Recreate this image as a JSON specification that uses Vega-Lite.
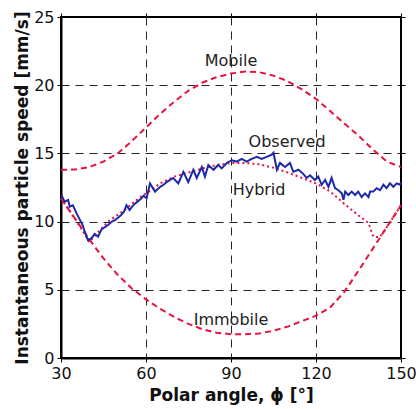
{
  "$schema": "https://vega.github.io/schema/vega-lite/v6.json",
  "width": 340,
  "height": 341,
  "autosize": {"type": "none"},
  "padding": {"left": 61, "top": 17, "right": 15, "bottom": 51},
  "background": "white",
  "config": {
    "font": "DejaVu Sans",
    "view": {"stroke": "#000", "strokeWidth": 2},
    "axis": {
      "labelFont": "DejaVu Sans",
      "labelFontSize": 16,
      "labelColor": "#111",
      "titleFont": "DejaVu Sans",
      "titleFontSize": 17,
      "titleFontWeight": "bold",
      "titleColor": "#111",
      "domainColor": "#000",
      "domainWidth": 2,
      "tickColor": "#000",
      "tickSize": 4,
      "tickWidth": 1,
      "gridColor": "#000",
      "gridOpacity": 0.85,
      "gridDash": [8, 6],
      "gridWidth": 1
    }
  },
  "datasets": {
    "curves": [
      {"series": "Mobile", "angle": 30, "speed": 13.8},
      {"series": "Mobile", "angle": 35, "speed": 13.82},
      {"series": "Mobile", "angle": 40, "speed": 14.0},
      {"series": "Mobile", "angle": 45, "speed": 14.4},
      {"series": "Mobile", "angle": 50, "speed": 15.0},
      {"series": "Mobile", "angle": 55, "speed": 15.9},
      {"series": "Mobile", "angle": 60, "speed": 16.9},
      {"series": "Mobile", "angle": 65, "speed": 17.9},
      {"series": "Mobile", "angle": 70, "speed": 18.8},
      {"series": "Mobile", "angle": 75, "speed": 19.6},
      {"series": "Mobile", "angle": 80, "speed": 20.2},
      {"series": "Mobile", "angle": 85, "speed": 20.6},
      {"series": "Mobile", "angle": 90, "speed": 20.85},
      {"series": "Mobile", "angle": 95, "speed": 21.0},
      {"series": "Mobile", "angle": 100, "speed": 20.95},
      {"series": "Mobile", "angle": 105, "speed": 20.7},
      {"series": "Mobile", "angle": 110, "speed": 20.3},
      {"series": "Mobile", "angle": 115, "speed": 19.7},
      {"series": "Mobile", "angle": 120, "speed": 19.0},
      {"series": "Mobile", "angle": 125, "speed": 18.1},
      {"series": "Mobile", "angle": 130, "speed": 17.2},
      {"series": "Mobile", "angle": 135, "speed": 16.3},
      {"series": "Mobile", "angle": 140, "speed": 15.3},
      {"series": "Mobile", "angle": 145, "speed": 14.4},
      {"series": "Mobile", "angle": 150, "speed": 14.0},
      {"series": "Immobile", "angle": 30, "speed": 11.7},
      {"series": "Immobile", "angle": 35, "speed": 10.2},
      {"series": "Immobile", "angle": 40, "speed": 8.7},
      {"series": "Immobile", "angle": 45, "speed": 7.3},
      {"series": "Immobile", "angle": 50, "speed": 6.1},
      {"series": "Immobile", "angle": 55, "speed": 5.1},
      {"series": "Immobile", "angle": 60, "speed": 4.3},
      {"series": "Immobile", "angle": 65, "speed": 3.6},
      {"series": "Immobile", "angle": 70, "speed": 3.0},
      {"series": "Immobile", "angle": 75, "speed": 2.5},
      {"series": "Immobile", "angle": 80, "speed": 2.1},
      {"series": "Immobile", "angle": 85, "speed": 1.85},
      {"series": "Immobile", "angle": 90, "speed": 1.75},
      {"series": "Immobile", "angle": 95, "speed": 1.75},
      {"series": "Immobile", "angle": 100, "speed": 1.8},
      {"series": "Immobile", "angle": 105, "speed": 2.0},
      {"series": "Immobile", "angle": 110, "speed": 2.3},
      {"series": "Immobile", "angle": 115, "speed": 2.7},
      {"series": "Immobile", "angle": 120, "speed": 3.1},
      {"series": "Immobile", "angle": 125, "speed": 3.7},
      {"series": "Immobile", "angle": 130, "speed": 4.85},
      {"series": "Immobile", "angle": 135, "speed": 6.4},
      {"series": "Immobile", "angle": 140, "speed": 8.0},
      {"series": "Immobile", "angle": 142.5, "speed": 8.8},
      {"series": "Immobile", "angle": 145, "speed": 9.6},
      {"series": "Immobile", "angle": 150, "speed": 11.2},
      {"series": "Hybrid", "angle": 30, "speed": 11.7},
      {"series": "Hybrid", "angle": 32, "speed": 11.1},
      {"series": "Hybrid", "angle": 35, "speed": 10.2},
      {"series": "Hybrid", "angle": 38, "speed": 9.2},
      {"series": "Hybrid", "angle": 40, "speed": 8.5},
      {"series": "Hybrid", "angle": 43, "speed": 9.2},
      {"series": "Hybrid", "angle": 46.6, "speed": 10.0},
      {"series": "Hybrid", "angle": 50, "speed": 10.5},
      {"series": "Hybrid", "angle": 52.5, "speed": 10.85},
      {"series": "Hybrid", "angle": 55, "speed": 11.3},
      {"series": "Hybrid", "angle": 58, "speed": 11.8},
      {"series": "Hybrid", "angle": 61, "speed": 12.2},
      {"series": "Hybrid", "angle": 65, "speed": 12.8},
      {"series": "Hybrid", "angle": 70, "speed": 13.3},
      {"series": "Hybrid", "angle": 75, "speed": 13.6},
      {"series": "Hybrid", "angle": 80, "speed": 13.9},
      {"series": "Hybrid", "angle": 85, "speed": 14.15},
      {"series": "Hybrid", "angle": 90, "speed": 14.3},
      {"series": "Hybrid", "angle": 95, "speed": 14.3},
      {"series": "Hybrid", "angle": 100, "speed": 14.2},
      {"series": "Hybrid", "angle": 105, "speed": 13.95},
      {"series": "Hybrid", "angle": 110, "speed": 13.6},
      {"series": "Hybrid", "angle": 115, "speed": 13.2},
      {"series": "Hybrid", "angle": 120, "speed": 12.8},
      {"series": "Hybrid", "angle": 125, "speed": 12.2},
      {"series": "Hybrid", "angle": 130, "speed": 11.3},
      {"series": "Hybrid", "angle": 135, "speed": 10.45},
      {"series": "Hybrid", "angle": 138.5, "speed": 9.9},
      {"series": "Hybrid", "angle": 140.2, "speed": 8.9},
      {"series": "Hybrid", "angle": 142.5, "speed": 8.85},
      {"series": "Hybrid", "angle": 145, "speed": 9.6},
      {"series": "Hybrid", "angle": 150, "speed": 11.2},
      {"series": "Observed", "angle": 30.1, "speed": 11.95},
      {"series": "Observed", "angle": 31.3, "speed": 11.46},
      {"series": "Observed", "angle": 32.5, "speed": 11.58},
      {"series": "Observed", "angle": 33.1, "speed": 11.1},
      {"series": "Observed", "angle": 34.2, "speed": 11.2},
      {"series": "Observed", "angle": 35.5, "speed": 10.6},
      {"series": "Observed", "angle": 36.5, "speed": 10.2},
      {"series": "Observed", "angle": 37.5, "speed": 9.8},
      {"series": "Observed", "angle": 38.5, "speed": 9.2},
      {"series": "Observed", "angle": 39.5, "speed": 8.65},
      {"series": "Observed", "angle": 40.7, "speed": 8.77},
      {"series": "Observed", "angle": 41.9, "speed": 9.1},
      {"series": "Observed", "angle": 43.1, "speed": 8.9},
      {"series": "Observed", "angle": 44.2, "speed": 9.4},
      {"series": "Observed", "angle": 45.5, "speed": 9.6},
      {"series": "Observed", "angle": 46.6, "speed": 9.75},
      {"series": "Observed", "angle": 48, "speed": 10.0},
      {"series": "Observed", "angle": 49, "speed": 10.1},
      {"series": "Observed", "angle": 50.2, "speed": 10.3},
      {"series": "Observed", "angle": 51.3, "speed": 10.5},
      {"series": "Observed", "angle": 52.2, "speed": 10.7},
      {"series": "Observed", "angle": 53.1, "speed": 11.2},
      {"series": "Observed", "angle": 54.2, "speed": 10.85},
      {"series": "Observed", "angle": 55.1, "speed": 11.1},
      {"series": "Observed", "angle": 56, "speed": 11.3},
      {"series": "Observed", "angle": 57.2, "speed": 11.5},
      {"series": "Observed", "angle": 58.3, "speed": 11.7},
      {"series": "Observed", "angle": 59.2, "speed": 11.9},
      {"series": "Observed", "angle": 60.2, "speed": 11.7},
      {"series": "Observed", "angle": 61.4, "speed": 12.8},
      {"series": "Observed", "angle": 63.2, "speed": 12.2},
      {"series": "Observed", "angle": 65, "speed": 12.55},
      {"series": "Observed", "angle": 66.2, "speed": 12.7},
      {"series": "Observed", "angle": 67.3, "speed": 12.9},
      {"series": "Observed", "angle": 69.6, "speed": 13.2},
      {"series": "Observed", "angle": 71.4, "speed": 12.8},
      {"series": "Observed", "angle": 73.2, "speed": 13.65},
      {"series": "Observed", "angle": 74.9, "speed": 12.9},
      {"series": "Observed", "angle": 76.7, "speed": 13.8},
      {"series": "Observed", "angle": 77.9, "speed": 13.2},
      {"series": "Observed", "angle": 79.7, "speed": 14.0},
      {"series": "Observed", "angle": 80.8, "speed": 13.3},
      {"series": "Observed", "angle": 82, "speed": 14.15},
      {"series": "Observed", "angle": 83.8, "speed": 13.8},
      {"series": "Observed", "angle": 85.5, "speed": 14.15},
      {"series": "Observed", "angle": 86.7, "speed": 13.9},
      {"series": "Observed", "angle": 88.5, "speed": 14.3},
      {"series": "Observed", "angle": 90.2, "speed": 14.5},
      {"series": "Observed", "angle": 92, "speed": 14.4},
      {"series": "Observed", "angle": 93.8, "speed": 14.6},
      {"series": "Observed", "angle": 95.5, "speed": 14.4},
      {"series": "Observed", "angle": 97.3, "speed": 14.6},
      {"series": "Observed", "angle": 99.1, "speed": 14.75},
      {"series": "Observed", "angle": 100.8, "speed": 14.6},
      {"series": "Observed", "angle": 102.6, "speed": 14.75},
      {"series": "Observed", "angle": 104.4, "speed": 14.9},
      {"series": "Observed", "angle": 105, "speed": 15.05},
      {"series": "Observed", "angle": 106.2, "speed": 13.8},
      {"series": "Observed", "angle": 107.3, "speed": 14.3},
      {"series": "Observed", "angle": 109.1, "speed": 14.0},
      {"series": "Observed", "angle": 110.8, "speed": 14.3},
      {"series": "Observed", "angle": 112, "speed": 13.65},
      {"series": "Observed", "angle": 113.8, "speed": 13.8},
      {"series": "Observed", "angle": 115.5, "speed": 13.5},
      {"series": "Observed", "angle": 116.7, "speed": 13.2},
      {"series": "Observed", "angle": 117.9, "speed": 13.4},
      {"series": "Observed", "angle": 119.6, "speed": 13.05},
      {"series": "Observed", "angle": 120.8, "speed": 13.3},
      {"series": "Observed", "angle": 122, "speed": 12.7},
      {"series": "Observed", "angle": 123.2, "speed": 13.05},
      {"series": "Observed", "angle": 124.4, "speed": 12.55},
      {"series": "Observed", "angle": 125.5, "speed": 13.2},
      {"series": "Observed", "angle": 126.7, "speed": 12.45},
      {"series": "Observed", "angle": 127.9, "speed": 12.3},
      {"series": "Observed", "angle": 129.1, "speed": 12.07},
      {"series": "Observed", "angle": 129.7, "speed": 11.6},
      {"series": "Observed", "angle": 130.3, "speed": 12.2},
      {"series": "Observed", "angle": 131.4, "speed": 11.95},
      {"series": "Observed", "angle": 132.6, "speed": 12.2},
      {"series": "Observed", "angle": 133.8, "speed": 11.95},
      {"series": "Observed", "angle": 134.9, "speed": 12.2},
      {"series": "Observed", "angle": 136.1, "speed": 11.8},
      {"series": "Observed", "angle": 137.3, "speed": 12.07},
      {"series": "Observed", "angle": 138.5, "speed": 11.8},
      {"series": "Observed", "angle": 139.1, "speed": 12.2},
      {"series": "Observed", "angle": 140.2, "speed": 12.2},
      {"series": "Observed", "angle": 141.4, "speed": 12.45},
      {"series": "Observed", "angle": 142.6, "speed": 12.3},
      {"series": "Observed", "angle": 143.8, "speed": 12.7},
      {"series": "Observed", "angle": 144.9, "speed": 12.45},
      {"series": "Observed", "angle": 146.1, "speed": 12.8},
      {"series": "Observed", "angle": 147.3, "speed": 12.55},
      {"series": "Observed", "angle": 148.5, "speed": 12.8},
      {"series": "Observed", "angle": 149.6, "speed": 12.7},
      {"series": "Observed", "angle": 150, "speed": 12.9}
    ],
    "labels": [
      {"label": "Mobile", "angle": 90, "speed": 21.8},
      {"label": "Observed", "angle": 109.8, "speed": 15.8},
      {"label": "Hybrid", "angle": 99.9, "speed": 12.3},
      {"label": "Immobile", "angle": 90, "speed": 2.8}
    ]
  },
  "layer": [
    {
      "data": {"name": "curves"},
      "transform": [{"filter": "datum.series === 'Mobile'"}],
      "mark": {"type": "line", "color": "#e8113f", "strokeWidth": 2, "strokeDash": [6, 4]},
      "encoding": {
        "x": {
          "field": "angle", "type": "quantitative",
          "scale": {"domain": [30, 150], "nice": false, "zero": false},
          "axis": {"orient": "bottom", "values": [30, 60, 90, 120, 150], "title": "Polar angle, ϕ [°]", "grid": true, "labelPadding": 3, "titleY": 37, "titleBaseline": "middle", "labelFlush": false}
        },
        "y": {
          "field": "speed", "type": "quantitative",
          "scale": {"domain": [0, 25], "nice": false},
          "axis": {"orient": "left", "values": [0, 5, 10, 15, 20, 25], "title": "Instantaneous particle speed [mm/s]", "grid": true, "labelPadding": 3, "titleX": -39, "titleBaseline": "middle", "labelFlush": false}
        }
      }
    },
    {
      "data": {"name": "curves"},
      "transform": [{"filter": "datum.series === 'Immobile'"}],
      "mark": {"type": "line", "color": "#e8113f", "strokeWidth": 2, "strokeDash": [6, 4]},
      "encoding": {
        "x": {"field": "angle", "type": "quantitative", "axis": null},
        "y": {"field": "speed", "type": "quantitative", "axis": null}
      }
    },
    {
      "data": {"name": "curves"},
      "transform": [{"filter": "datum.series === 'Hybrid'"}],
      "mark": {"type": "line", "color": "#e8113f", "strokeWidth": 2, "strokeDash": [2, 3]},
      "encoding": {
        "x": {"field": "angle", "type": "quantitative", "axis": null},
        "y": {"field": "speed", "type": "quantitative", "axis": null}
      }
    },
    {
      "data": {"name": "curves"},
      "transform": [{"filter": "datum.series === 'Observed'"}],
      "mark": {"type": "line", "color": "#1c2aa8", "strokeWidth": 2},
      "encoding": {
        "x": {"field": "angle", "type": "quantitative", "axis": null},
        "y": {"field": "speed", "type": "quantitative", "axis": null}
      }
    },
    {
      "data": {"name": "labels"},
      "mark": {"type": "text", "font": "DejaVu Sans", "fontSize": 16, "color": "#222", "align": "center", "baseline": "middle"},
      "encoding": {
        "x": {"field": "angle", "type": "quantitative",
          "axis": {"orient": "top", "values": [30, 60, 90, 120, 150], "labels": false, "title": null, "grid": false, "domain": false}},
        "y": {"field": "speed", "type": "quantitative",
          "axis": {"orient": "right", "values": [0, 5, 10, 15, 20, 25], "labels": false, "title": null, "grid": false, "domain": false}},
        "text": {"field": "label", "type": "nominal"}
      }
    }
  ],
  "resolve": {"axis": {"x": "independent", "y": "independent"}}
}
